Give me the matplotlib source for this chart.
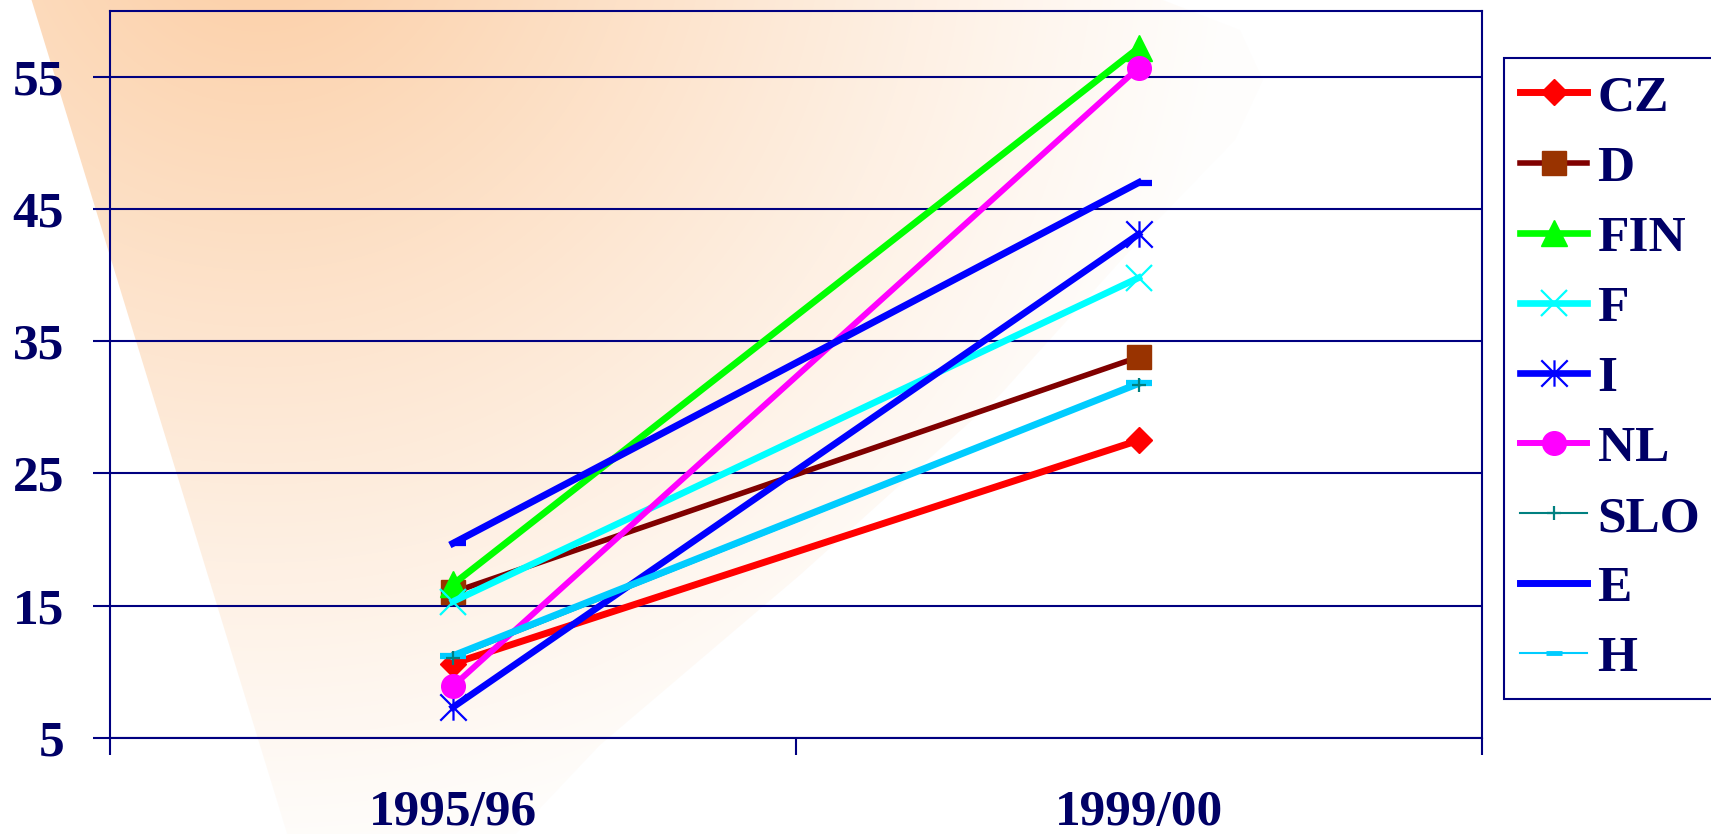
import numpy as np
import matplotlib
matplotlib.use('Agg')
import matplotlib.pyplot as plt
from matplotlib.path import Path
from matplotlib.patches import Polygon
from matplotlib.lines import Line2D

plt.rcParams['font.family'] = 'Liberation Serif'
plt.rcParams['font.weight'] = 'bold'

years = ['1995/96', '1999/00']
countries = ['CZ', 'D', 'FIN', 'F', 'I', 'NL', 'SLO', 'E', 'H']
cz = [10.6, 27.5]
d = [16.0, 33.8]
fin = [16.6, 57.2]
f = [15.3, 39.8]
it = [7.3, 43.1]
nl = [8.9, 55.7]
slo = [11.0, 31.7]
e = [19.7, 47.0]
h = [11.2, 31.8]

navy = '#000080'
txt = '#000066'
W, H = 1711, 834

# asterisk and short right-hand dash markers
star = Path([(0, -1), (0, 1), (-1, -1), (1, 1), (-1, 1), (1, -1)],
            [Path.MOVETO, Path.LINETO] * 3)
rdash = Path([(0, 0), (1, 0)], [Path.MOVETO, Path.LINETO])

fig = plt.figure(figsize=(W / 100, H / 100), dpi=100)
fig.patch.set_facecolor('white')

# peach gradient backdrop
bg = fig.add_axes([0, 0, 1, 1], zorder=0)
yy, xx = np.mgrid[0:H, 0:W]
dist = np.hypot(xx - 260, yy + 100)
alpha = np.clip(1 - (dist - 100) / 920, 0, 1) ** 1.15
alpha = np.maximum(alpha, 0.035)
img = np.zeros((H, W, 4))
img[..., 0] = 252 / 255
img[..., 1] = 210 / 255
img[..., 2] = 172 / 255
img[..., 3] = alpha
im = bg.imshow(img, extent=(0, W, H, 0), aspect='auto', interpolation='bilinear')
edge = [(30, -5), (289, 840), (510, 840), (600, 745), (800, 575), (1000, 395),
        (1153, 225), (1235, 140), (1263, 80), (1240, 30), (1150, -5)]
shape = Polygon(edge, closed=True, transform=bg.transData, facecolor='none', edgecolor='none')
im.set_clip_path(shape)
bg.set_xlim(0, W)
bg.set_ylim(H, 0)
bg.axis('off')

ax = fig.add_axes([110 / W, 96.3 / H, (1481.7 - 110) / W, (737.7 - 10.7) / H], zorder=1)
ax.patch.set_visible(False)
x = np.arange(len(years))

ax.plot(x, cz, color='#FF0000', lw=5.0, marker='D', ms=13.7, zorder=3)
ax.plot(x, d, color='#800000', lw=4.0, marker='s', ms=17, mfc='#993300', mec='#993300', zorder=4)
ax.plot(x, fin, color='#00FF00', lw=4.8, marker='^', ms=18.5, zorder=5)
ax.plot(x, f, color='#00FFFF', lw=4.8, marker='x', ms=19, mew=1.6, zorder=6)
ax.plot(x, it, color='#0000FF', lw=4.8, marker=star, ms=19, mew=1.6, zorder=7)
ax.plot(x, nl, color='#FF00FF', lw=4.3, marker='o', ms=17, zorder=8)
ax.plot(x, slo, color='#008080', lw=1.5, zorder=9)
ax.plot(x, e, color='#0000FF', lw=5.0, marker=rdash, ms=19, mew=4.5, zorder=10)
ax.plot(x, h, color='#00CCFF', lw=5.0, marker='_', ms=19, mew=4.5, zorder=11)
ax.plot(x, slo, ls='none', color='#008080', marker='+', ms=10, mew=1.6, zorder=12)

ax.set_xlim(-0.5, 1.5)
ax.set_ylim(5, 60)
ax.set_yticks([5, 15, 25, 35, 45, 55])
ax.yaxis.grid(True, color=navy, lw=1.5)
ax.set_axisbelow(True)
ax.tick_params(axis='y', length=12, width=1.5, color=navy, pad=21,
               labelsize=37, labelcolor=txt)

ax.set_xticks([-0.5, 0.5, 1.5])
ax.set_xticklabels([])
ax.set_xticks(x, minor=True)
ax.set_xticklabels(years, minor=True)
ax.tick_params(axis='x', which='major', length=12, width=1.5, color=navy)
ax.tick_params(axis='x', which='minor', length=0, pad=38, labelsize=37, labelcolor=txt)
for s in ax.spines.values():
    s.set_color(navy)
    s.set_linewidth(1.5)

handles = [
    Line2D([], [], color='#FF0000', lw=5.0, marker='D', ms=13.7),
    Line2D([], [], color='#800000', lw=4.0, marker='s', ms=17, mfc='#993300', mec='#993300'),
    Line2D([], [], color='#00FF00', lw=4.8, marker='^', ms=18.5),
    Line2D([], [], color='#00FFFF', lw=4.8, marker='x', ms=19, mew=1.6),
    Line2D([], [], color='#0000FF', lw=4.8, marker=star, ms=19, mew=1.6),
    Line2D([], [], color='#FF00FF', lw=4.3, marker='o', ms=17),
    Line2D([], [], color='#008080', lw=1.5, marker='+', ms=10, mew=1.6),
    Line2D([], [], color='#0000FF', lw=5.0),
    Line2D([], [], color='#00CCFF', lw=1.5, marker='_', ms=11, mew=3.5),
]
leg = fig.legend(handles, countries, loc='upper left',
                 bbox_to_anchor=(1504 / W, 1 - 58 / H), bbox_transform=fig.transFigure,
                 frameon=True, fancybox=False, framealpha=1, edgecolor=navy,
                 fontsize=37, labelcolor=txt, handlelength=1.3, handletextpad=0.2,
                 labelspacing=0.45, borderpad=0.32, borderaxespad=0)
leg.get_frame().set_linewidth(1.5)

fig.savefig('out.png', dpi=100)
